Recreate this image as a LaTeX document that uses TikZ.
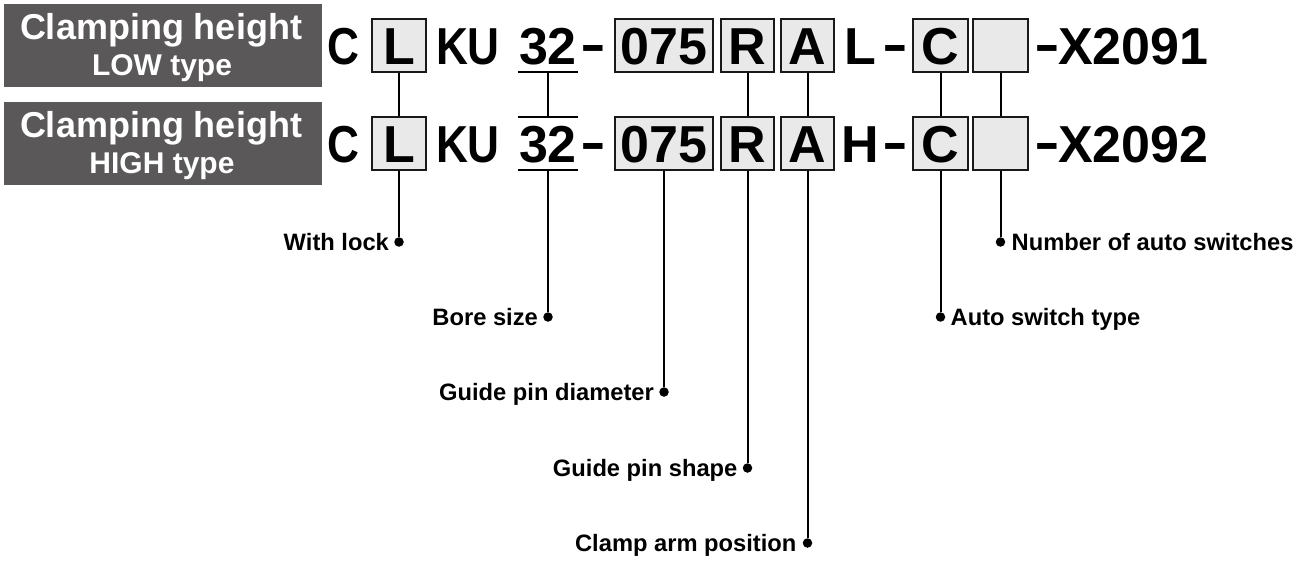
\documentclass[tikz,border=0pt]{standalone}
\usepackage{graphicx}
\usepackage{fontspec}
\setmainfont{Liberation Sans}
\usetikzlibrary{positioning}

\definecolor{tagbg}{HTML}{5A5859}
\definecolor{cellbg}{HTML}{E8E9E8}

\tikzset{
    code/.style={font=\fontsize{52}{52}\selectfont\bfseries, inner sep=0pt,
        text height=37pt, text depth=0pt, minimum height=53pt},
    cell/.style={code, draw=black!90, line width=1.8pt, fill=cellbg},
    tag/.style={fill=tagbg, minimum width=318pt, minimum height=83pt, inner sep=0pt},
    tagbig/.style={text=white, font=\fontsize{36}{36}\selectfont\bfseries, inner sep=0pt, anchor=base},
    tagsmall/.style={text=white, font=\fontsize{30}{30}\selectfont\bfseries, inner sep=0pt, anchor=base},
    pin/.style={circle, fill=black, minimum size=9.5pt, inner sep=0pt},
    lbl/.style={font=\fontsize{23.7}{24}\selectfont\bfseries, inner sep=0pt,
        text height=17pt, text depth=0pt},
    lead/.style={line width=2pt},
}
\newcommand{\codedash}{\scalebox{0.75}[1.15]{--}}
\newcommand{\narrow}[1]{\scalebox{0.85}[1]{#1}}

\begin{document}
\begin{tikzpicture}[x=1pt,y=-1pt]
    \useasboundingbox (0,0) rectangle (1303,562);

    % Two model code rows
    \foreach \r/\y/\t/\h/\x in {1/0/LOW/L/X2091, 2/98/HIGH/H/X2092} {
        \node[tag] (tag\r) at (163,45.5+\y) {};
        \node[tagbig] at (161,39+\y) {Clamping height};
        \node[tagsmall] at (162,75+\y) {\t\ type};

        \node[code] (c\r) at (343,45.5+\y) {\narrow{C}};
        \node[cell, minimum width=54pt] (lock\r) at (399,45.5+\y) {L};
        \node[code] (ku\r) at (468,45.5+\y) {\narrow{KU}};
        \node[code, minimum width=60pt] (bore\r) at (548,45.5+\y) {32};
        \node[code] (da\r) at (593,45.5+\y) {\codedash};
        \node[cell, minimum width=98pt] (dia\r) at (664,45.5+\y) {075};
        \node[cell, minimum width=53pt] (shape\r) at (747.5,45.5+\y) {R};
        \node[cell, minimum width=53pt] (arm\r) at (807.5,45.5+\y) {A};
        \node[code] (ht\r) at (860,45.5+\y) {\h};
        \node[code] (db\r) at (895,45.5+\y) {\codedash};
        \node[cell, minimum width=55pt] (sw\r) at (940.5,45.5+\y) {C};
        \node[cell, minimum width=55pt] (num\r) at (1000.5,45.5+\y) {};
        \node[code] (dc\r) at (1047,45.5+\y) {\codedash};
        \node[code, anchor=west] (spec\r) at (1058,45.5+\y) {\x};

        % underline of bore size
        \draw[lead] (bore\r.south west) -- (bore\r.south east);
    }
    \draw[lead] (bore2.north west) -- (bore2.north east);

    % Links between the rows
    \foreach \n in {lock,bore,shape,arm,sw,num}
        \draw[lead] (\n1.south) -- (\n2.north);

    % Leader ends
    \node[pin] (pLock) at (399,242) {};
    \node[pin] (pBore) at (548,317) {};
    \node[pin] (pDia) at (664,392) {};
    \node[pin] (pShape) at (747.5,468) {};
    \node[pin] (pArm) at (807.5,543) {};
    \node[pin] (pSw) at (940.5,317) {};
    \node[pin] (pNum) at (1000.5,242) {};

    \foreach \n/\p in {lock/Lock,bore/Bore,dia/Dia,shape/Shape,arm/Arm,sw/Sw,num/Num}
        \draw[lead] (\n2.south) -- (p\p);

    % Labels
    \node[lbl, left=5pt of pLock] {With lock};
    \node[lbl, left=5pt of pBore] {Bore size};
    \node[lbl, left=5pt of pDia] {Guide pin diameter};
    \node[lbl, left=5pt of pShape] {Guide pin shape};
    \node[lbl, left=6pt of pArm] {Clamp arm position};
    \node[lbl, right=5pt of pSw] {Auto switch type};
    \node[lbl, right=6pt of pNum] {Number of auto switches};
\end{tikzpicture}
\end{document}
